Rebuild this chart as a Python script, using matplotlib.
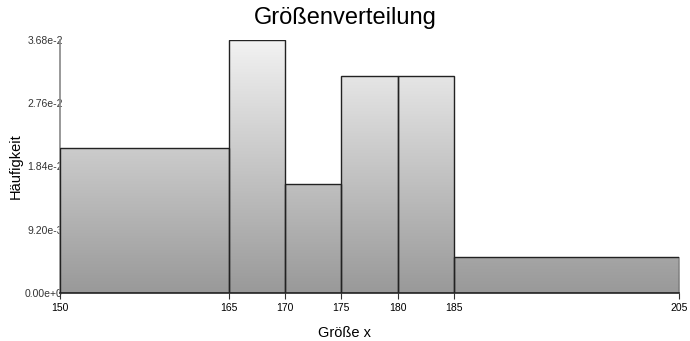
import numpy as np
import matplotlib
matplotlib.use("Agg")
import matplotlib.pyplot as plt
from matplotlib.colors import LinearSegmentedColormap

bin_edges = [150, 165, 170, 175, 180, 185, 205]
densities = [0.0211, 0.0368, 0.01585, 0.0316, 0.0316, 0.00524]
y_ticks = [0.0, 0.0092, 0.0184, 0.0276, 0.0368]
y_tick_labels = ["0.00e+0", "9.20e-3", "1.84e-2", "2.76e-2", "3.68e-2"]
title = "Größenverteilung"
xlabel = "Größe x"
ylabel = "Häufigkeit"

plt.rcParams['font.family'] = ['Liberation Sans', 'DejaVu Sans']

fig = plt.figure(figsize=(6.9, 3.41), dpi=100)
ax = fig.add_axes([60/690, 1-293/341, (679-60)/690, (293-40)/341])

ymax = y_ticks[-1]
ax.set_xlim(bin_edges[0], bin_edges[-1])
ax.set_ylim(0, ymax)

cmap = LinearSegmentedColormap.from_list("g", ["#999999", "#f2f2f2"])
grad = np.linspace(0, 1, 256).reshape(-1, 1)

widths = np.diff(bin_edges)
bars = ax.bar(bin_edges[:-1], densities, width=widths, align='edge',
              facecolor='none', edgecolor='#222222', linewidth=1.0, zorder=3)
for b in bars:
    im = ax.imshow(grad, cmap=cmap, origin='lower', aspect='auto',
                   extent=[bin_edges[0], bin_edges[-1], 0, ymax], zorder=2,
                   interpolation='bilinear')
    im.set_clip_path(b)

ax.set_xticks(bin_edges)
ax.set_xticklabels([str(e) for e in bin_edges], fontsize=7.5)
ax.set_yticks(y_ticks)
ax.set_yticklabels(y_tick_labels, fontsize=7.5, color='#333333')
ax.tick_params(axis='y', length=0, pad=-2)
ax.tick_params(axis='x', length=4, width=0.8, color='#333333', pad=3)

for s in ['top', 'right']:
    ax.spines[s].set_visible(False)
ax.spines['left'].set_color('#888888')
ax.spines['left'].set_linewidth(1.2)
ax.spines['bottom'].set_color('#222222')
ax.spines['bottom'].set_linewidth(1.2)

ax.set_ylabel(ylabel, fontsize=10.5, labelpad=2)
fig.text(0.5, 1-333/341, xlabel, ha='center', va='center', fontsize=10.5)
fig.text(0.5, 1-18/341, title, ha='center', va='center', fontsize=17)

fig.savefig("out.png", dpi=100)
